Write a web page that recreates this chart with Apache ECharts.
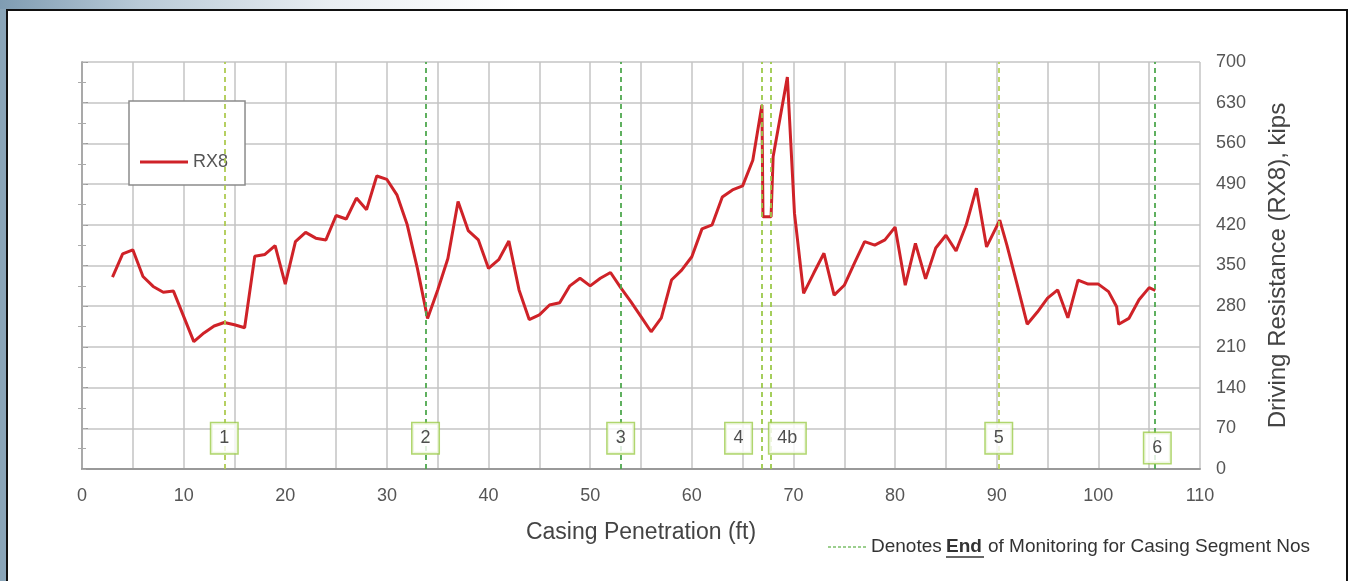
<!DOCTYPE html>
<html>
<head>
<meta charset="utf-8">
<title>RX8 Driving Resistance</title>
<script src="https://cdn.jsdelivr.net/npm/echarts@6/dist/echarts.min.js"></script>
<style>
  html, body { margin: 0; padding: 0; }
  body {
    width: 1350px; height: 581px; overflow: hidden; position: relative;
    background: linear-gradient(to right, #7f9cb2 0px, #b9cad7 140px, #e9eef2 330px, #ffffff 520px);
  }
  #frame {
    position: absolute; left: 6px; top: 9px; width: 1342px; height: 580px;
    background: #fff; border: 2px solid #111; box-sizing: border-box;
  }
  #leftStrip { position: absolute; left: 0; top: 9px; width: 6px; height: 572px; background: #8aa5b8; }
  #main { position: absolute; left: 0; top: 0; width: 1350px; height: 581px; }
</style>
</head>
<body>
<div id="leftStrip"></div>
<div id="frame"></div>
<div id="main"></div>
<script>
// casing penetration (ft) and driving resistance RX8 (kips)
const depth = [3, 4, 5, 6, 7, 8, 9, 11, 12, 13, 14, 15, 16, 17, 18, 19, 20, 21, 22, 23, 24, 25,
  26, 27, 28, 29, 30, 31, 32, 33, 34, 35, 36, 37, 38, 39, 40, 41, 42, 43, 44, 45, 46, 47, 48,
  49, 50, 51, 52, 53, 54, 55, 56, 57, 58, 59, 60, 61, 62, 63, 64, 65, 66, 66.9, 67, 67.8, 68,
  69.4, 70.1, 71, 72, 73, 74, 75, 76, 77, 78, 79, 80, 81, 82, 83, 84, 85, 86, 87, 88, 89, 90.3,
  91, 92, 93, 94, 95, 96, 97, 98, 99, 100, 101, 101.8, 102, 103, 104, 105, 105.6];
const rx8 = [330, 370, 377, 331, 314, 304, 306, 219, 234, 246, 252, 248, 243, 366, 369, 384, 318,
  391, 407, 397, 394, 436, 430, 466, 446, 504, 498, 471, 420, 345, 259, 308, 362, 460, 410, 394,
  345, 360, 392, 308, 257, 265, 282, 286, 315, 328, 315, 328, 338, 312, 288, 262, 236, 260, 325,
  342, 365, 413, 420, 468, 480, 487, 531, 626, 434, 434, 537, 674, 440, 302, 337, 371, 299, 316,
  354, 391, 385, 394, 416, 316, 388, 327, 380, 402, 375, 420, 483, 382, 428, 385, 318, 249, 270,
  294, 308, 260, 325, 318, 318, 305, 279, 249, 259, 291, 312, 307];

// end of monitoring for casing segments
const segDepth = [14, 33.8, 53, 66.9, 67.8, 90.2, 105.5];
const segColor = ['#aecb52', '#4fa84f', '#4fa84f', '#9cc94a', '#9cc94a', '#b8d45e', '#4fa84f'];
const segNames = ['1', '2', '3', '4', '4b', '5', '6'];
const segLabelX = [14, 33.8, 53, 64.6, 69.4, 90.2, 105.8];
const segLabelY = [53, 53, 53, 53, 53, 53, 36];

const xTicks = [0, 110, 10];
const yTicks = [0, 700, 70];

const FONT = '"Liberation Sans", Arial, sans-serif';
const chart = echarts.init(document.getElementById('main'), null, { renderer: 'canvas' });

const lineData = depth.map((d, i) => [d, rx8[i]]);
const labelData = segNames.map((n, i) => ({ name: n, value: [segLabelX[i], segLabelY[i]] }));
const markData = segDepth.map((d, i) => ({ xAxis: d, lineStyle: { color: segColor[i] } }));

const gridLine = { show: true, lineStyle: { color: '#c4c4c4', width: 1.5 } };

chart.setOption({
  backgroundColor: 'transparent',
  animation: false,
  textStyle: { fontFamily: FONT },
  grid: { left: 82, right: 150, top: 62, bottom: 112 },
  legend: {
    data: [{ name: 'RX8', icon: 'rect' }],
    left: 129, top: 101,
    orient: 'vertical',
    padding: [52, 17, 14, 11],
    backgroundColor: '#fff',
    borderColor: '#8c8c8c', borderWidth: 1.5,
    itemWidth: 48, itemHeight: 3,
    selectedMode: false,
    textStyle: { fontSize: 18, color: '#555' }
  },
  xAxis: {
    type: 'value',
    min: xTicks[0], max: xTicks[1], interval: xTicks[2],
    name: 'Casing Penetration (ft)',
    nameLocation: 'middle', nameGap: 52,
    nameTextStyle: { fontSize: 23, color: '#444' },
    axisLine: { show: true, lineStyle: { color: '#999', width: 2 } },
    axisTick: { show: false },
    axisLabel: { fontSize: 18, color: '#555', margin: 18 },
    splitLine: gridLine,
    minorTick: { show: false, splitNumber: 2 },
    minorSplitLine: { show: true, lineStyle: { color: '#c4c4c4', width: 1.5 } }
  },
  yAxis: [{
    type: 'value',
    position: 'right',
    min: yTicks[0], max: yTicks[1], interval: yTicks[2],
    name: 'Driving Resistance (RX8), kips',
    nameLocation: 'middle', nameGap: 66, nameRotate: 90,
    nameTextStyle: { fontSize: 24, color: '#444' },
    axisLine: { show: true, lineStyle: { color: '#999', width: 1.5 } },
    axisTick: { show: true, length: 6, lineStyle: { color: '#999' } },
    minorTick: { show: true, splitNumber: 2, length: 4, lineStyle: { color: '#aaa' } },
    axisLabel: { fontSize: 18, color: '#555', margin: 16 },
    splitLine: gridLine
  }, {
    type: 'value',
    position: 'left',
    min: yTicks[0], max: yTicks[1], interval: yTicks[2],
    axisLine: { show: true, lineStyle: { color: '#aaa', width: 1.5 } },
    axisTick: { show: true, inside: true, length: 4, lineStyle: { color: '#aaa' } },
    minorTick: { show: true, splitNumber: 2, length: -4, lineStyle: { color: '#aaa' } },
    axisLabel: { show: false },
    splitLine: { show: false }
  }],
  series: [{
    name: 'segLines',
    type: 'line',
    z: 2,
    silent: true,
    data: [],
    markLine: {
      silent: true,
      symbol: 'none',
      label: { show: false },
      lineStyle: { type: [5, 4], width: 1.8 },
      data: markData
    }
  }, {
    name: 'RX8',
    type: 'line',
    z: 4,
    symbol: 'none',
    data: lineData,
    lineStyle: { color: '#cf2228', width: 3 },
    itemStyle: { color: '#cf2228' }
  }, {
    name: 'segLabels',
    type: 'scatter',
    z: 6,
    silent: true,
    symbolSize: 1,
    itemStyle: { color: 'transparent' },
    data: labelData,
    label: {
      show: true,
      position: 'inside',
      formatter: '{b}',
      fontSize: 18,
      color: '#222',
      backgroundColor: '#fff',
      borderColor: '#9ccc4a',
      borderWidth: 1.5,
      padding: [7, 8, 5, 8]
    }
  }],
  graphic: [{
    type: 'line',
    shape: { x1: 828, y1: 547, x2: 866, y2: 547 },
    style: { stroke: '#7cc06a', lineWidth: 1.5, lineDash: [3, 2] }
  }, {
    type: 'text', left: 871, top: 537,
    style: { text: 'Denotes', fontSize: 19, fill: '#333', fontFamily: FONT }
  }, {
    type: 'text', left: 946, top: 537,
    style: { text: 'End', fontSize: 19, fontWeight: 'bold', fill: '#333', fontFamily: FONT }
  }, {
    type: 'line',
    shape: { x1: 946, y1: 557, x2: 984, y2: 557 },
    style: { stroke: '#333', lineWidth: 1.5 }
  }, {
    type: 'text', left: 988, top: 537,
    style: { text: 'of Monitoring for Casing Segment Nos', fontSize: 19, fill: '#333', fontFamily: FONT }
  }]
});
</script>
</body>
</html>
